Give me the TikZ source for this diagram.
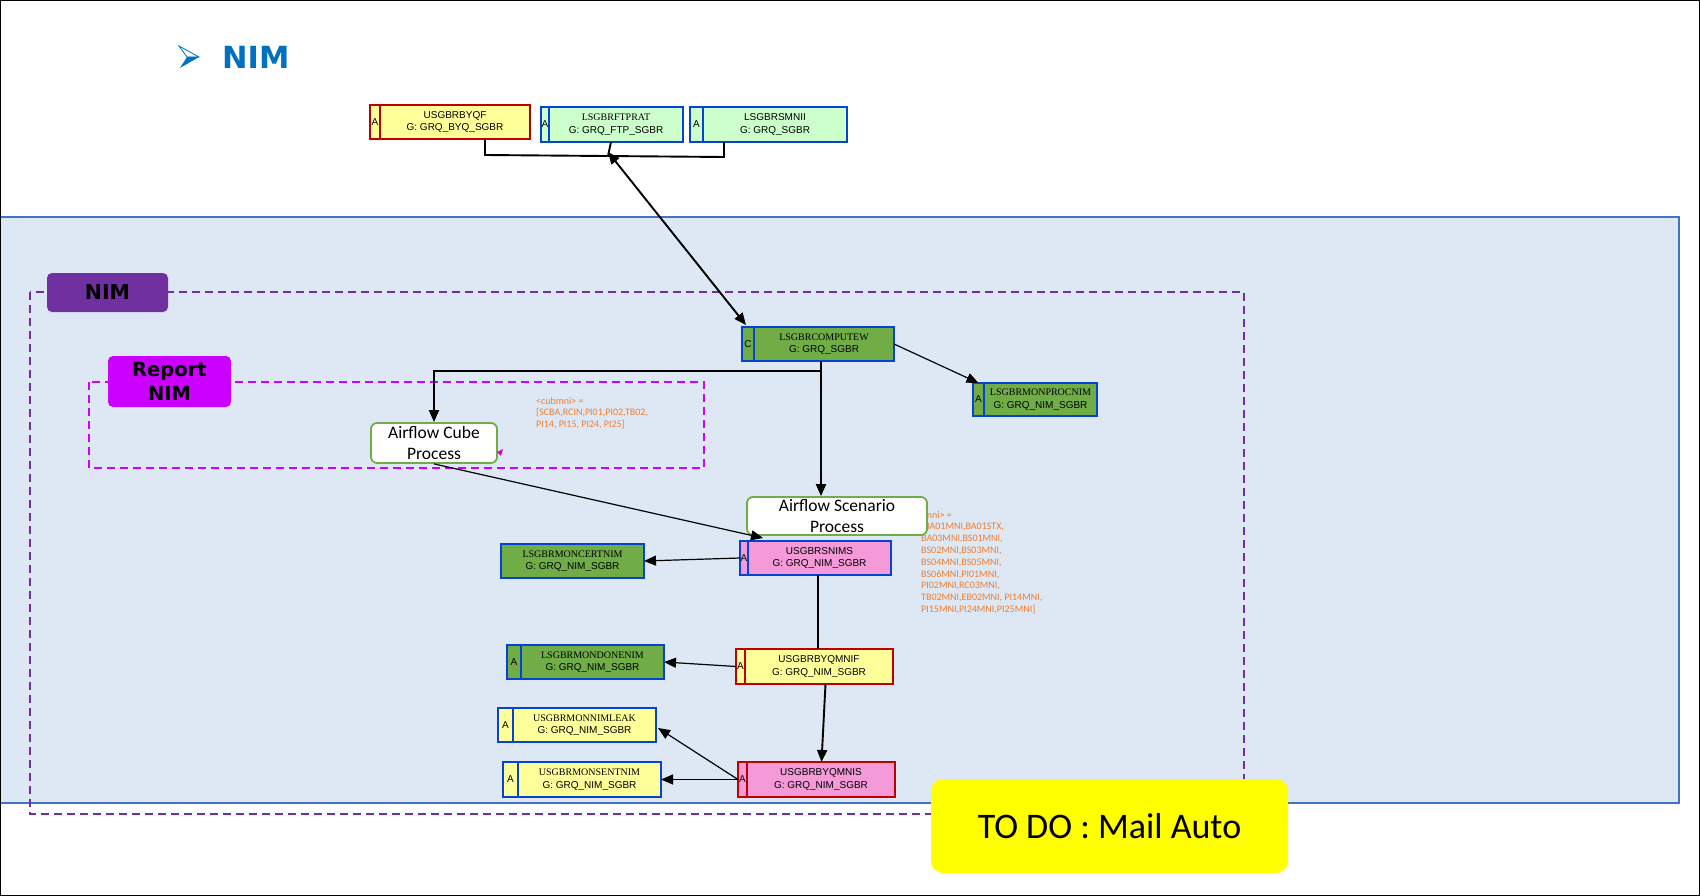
\documentclass[tikz,border=0pt]{standalone}
\usepackage{fontspec}
\setmainfont{Liberation Sans}
\newfontfamily\tms{Liberation Serif}
\newfontfamily\cali{Carlito}
\newfontfamily\heavy{DejaVu Sans}
\usetikzlibrary{calc,arrows.meta}
\definecolor{jyellow}{HTML}{FFFF99}
\definecolor{jlgreen}{HTML}{CCFFCC}
\definecolor{jgreen}{HTML}{70AD47}
\definecolor{jpink}{HTML}{F49AD9}
\definecolor{jred}{HTML}{C00000}
\definecolor{jblue}{HTML}{0544D2}
\definecolor{bgblue}{HTML}{DEE8F4}
\definecolor{bgborder}{HTML}{4472C4}
\definecolor{jpurple}{HTML}{7030A0}
\definecolor{jmagenta}{HTML}{CC00FF}
\definecolor{jorange}{HTML}{ED7D31}
\definecolor{titleblue}{HTML}{0070C0}
\definecolor{todoyellow}{HTML}{FFFF00}
\tikzset{
  jbox/.style={draw, line width=1.6pt, inner sep=0pt, outer sep=0pt},
  jcell/.style={draw, line width=1.6pt, inner sep=0pt, outer sep=0pt, font=\fontsize{10}{12}\selectfont},
  jtext/.style={inner sep=0pt, align=center, font=\fontsize{10}{12.5}\selectfont},
  yelred/.style={fill=jyellow, draw=jred},
  yelblue/.style={fill=jyellow, draw=jblue},
  lgblue/.style={fill=jlgreen, draw=jblue},
  grblue/.style={fill=jgreen, draw=jblue},
  pkblue/.style={fill=jpink, draw=jblue},
  pkred/.style={fill=jpink, draw=jred},
  flow/.style={draw=jgreen, line width=1.8pt, fill=white, rounded corners=6pt, inner sep=0pt, align=center, font=\cali\fontsize{17.5}{20.5}\selectfont},
  lbl/.style={rounded corners=5pt, inner sep=0pt, align=center, font=\heavy\bfseries\fontsize{19.5}{23.5}\selectfont},
  conn/.style={line width=1.9pt},
  tconn/.style={line width=1.2pt},
  >={Triangle[length=12pt,width=10pt]},
  note/.style={inner sep=0pt, align=left, text=jorange, font=\cali\fontsize{10}{11.8}\selectfont},
}
\newcommand{\jobnode}[9]{%
  \pgfmathsetmacro\jbw{#4-#2}\pgfmathsetmacro\jbh{#5-#3}\pgfmathsetmacro\jbc{#6-#2}%
  \node[jbox,#8,minimum width=\jbw pt,minimum height=\jbh pt,anchor=north west] (#1) at (#2,#3) {};%
  \node[jcell,#8,minimum width=\jbc pt,minimum height=\jbh pt,anchor=north west] (#1c) at (#2,#3) {#7};%
  \node[jtext] (#1t) at ($(#1c.east)!0.5!(#1.east)$) {#9};%
}
\begin{document}
\begin{tikzpicture}[x=1pt,y=-1pt]
\useasboundingbox (0,0) rectangle (1700,896);
\fill[white] (0,0) rectangle (1700,896);
% background panel
\draw[fill=bgblue, draw=bgborder, line width=1.6pt] (0,217) rectangle (1679,803);
% title
\draw[titleblue, line width=0.8pt, fill=white] (179,46) -- (199,57) -- (187,57) -- cycle;
\fill[titleblue] (187,57) -- (199,57) -- (180,68) -- cycle;
\node[anchor=west, inner sep=0pt, text=titleblue, font=\heavy\bfseries\fontsize{30.5}{36}\selectfont] (title) at (222,57) {NIM};
% dashed groups
\draw[jpurple, line width=1.8pt, dash pattern=on 8pt off 5pt] (30,292) rectangle (1244,814);
\draw[jmagenta, line width=1.8pt, dash pattern=on 8pt off 5pt] (89,382) rectangle (704,468);
\node[lbl, fill=jpurple, minimum width=121pt, minimum height=39pt, font=\heavy\bfseries\fontsize{20.5}{24}\selectfont] (nimlbl) at (107.5,292.5) {NIM};
\node[lbl, fill=jmagenta, minimum width=123pt, minimum height=51pt] (replbl) at (169.5,381.5) {Report\\NIM};
% notes
\node[note, anchor=north west] (cubnote) at (536,397) {<cubmni> =\\{[}SCBA,RCIN,PI01,PI02,TB02,\\PI14, PI15, PI24, PI25]};
\node[note, anchor=north west] (scnnote) at (921,511) {\hspace{3pt}mni> =\\{[}BA01MNI,BA01STX,\\BA03MNI,BS01MNI,\\BS02MNI,BS03MNI,\\BS04MNI,BS05MNI,\\BS06MNI,PI01MNI,\\PI02MNI,RC03MNI,\\TB02MNI,EB02MNI, PI14MNI,\\PI15MNI,PI24MNI,PI25MNI]};
% job nodes
\jobnode{byqf}{370}{105}{530}{139}{380}{A}{yelred}{USGBRBYQF\\G: GRQ\_BYQ\_SGBR}
\jobnode{ftp}{541}{107}{683}{142}{549}{A}{lgblue}{{\tms LSGBRFTPRAT}\\G: GRQ\_FTP\_SGBR}
\jobnode{smnii}{690}{107}{847}{142}{703}{A}{lgblue}{LSGBRSMNII\\G: GRQ\_SGBR}
\jobnode{compute}{742}{327}{894}{361}{754}{C}{grblue}{{\tms LSGBRCOMPUTEW}\\G: GRQ\_SGBR}
\jobnode{monproc}{973}{383}{1097}{416}{984}{A}{grblue}{{\tms LSGBRMONPROCNIM}\\G: GRQ\_NIM\_SGBR}
\jobnode{snims}{740}{541}{891}{575}{748}{A}{pkblue}{USGBRSNIMS\\G: GRQ\_NIM\_SGBR}
\node[jbox, grblue, minimum width=143pt, minimum height=34pt, anchor=north west] (cert) at (501,544) {};
\node[jtext] (certt) at (cert.center) {{\tms LSGBRMONCERTNIM}\\G: GRQ\_NIM\_SGBR};
\jobnode{mnif}{736}{649}{893}{684}{745}{A}{yelred}{USGBRBYQMNIF\\G: GRQ\_NIM\_SGBR}
\jobnode{done}{507}{645}{664}{679}{521}{A}{grblue}{{\tms LSGBRMONDONENIM}\\G: GRQ\_NIM\_SGBR}
\jobnode{leak}{498}{708}{656}{742}{513}{A}{yelblue}{{\tms USGBRMONNIMLEAK}\\G: GRQ\_NIM\_SGBR}
\jobnode{sent}{503}{762}{661}{797}{518}{A}{yelblue}{{\tms USGBRMONSENTNIM}\\G: GRQ\_NIM\_SGBR}
\jobnode{mnis}{738}{762}{895}{797}{747}{A}{pkred}{USGBRBYQMNIS\\G: GRQ\_NIM\_SGBR}
% process nodes
\node[flow, minimum width=126pt, minimum height=40pt] (cube) at (434,443) {Airflow Cube\\Process};
\node[flow, minimum width=180pt, minimum height=38pt] (scen) at (837,516) {Airflow Scenario\\Process};
\fill[jmagenta!70!red] (497,452) -- (503,449) -- (501,456) -- cycle;
% connectors
\coordinate (jl) at (485,155);
\coordinate (jm) at (608,156);
\coordinate (jr) at (724,157);
\draw[conn] (byqf.south -| jl) -- (jl) -- (jr) -- (smnii.south -| jr);
\draw[conn] (ftp.south -| 611,0) -- (jm);
\draw[conn,<->] ($(jm)+(0,-4)$) -- ($(compute.north west)+(4,-2)$);
\draw[tconn,->] (compute.east) -- (monprocc.north);
\coordinate (vx) at (821,0);
\coordinate (hb) at (821,371);
\draw[conn,->] (compute.south -| vx) -- (scen.north -| vx);
\draw[conn,->] (hb) -| (cube.north);
\draw[tconn,->] (cube.south) -- ($(snims.north west)+(23,-3)$);
\draw[tconn,->] (snims.west) -- (cert.east);
\coordinate (vx2) at (818,0);
\draw[conn] (snims.south -| vx2) -- (mnif.north -| vx2);
\draw[tconn,->] (mnif.west) -- (done.east);
\draw[conn,->] ($(mnif.south)+(11,0)$) -- ($(mnis.north)+(5,0)$);
\draw[tconn,->] (mnis.west) -- ($(leak.east)+(2,3)$);
\draw[tconn,->] (mnis.west) -- (sent.east);
% todo
\node[fill=todoyellow, rounded corners=12pt, minimum width=357pt, minimum height=94pt, inner sep=0pt, font=\cali\fontsize{36}{40}\selectfont] (todo) at (1109.5,826) {TO DO : Mail Auto};
% outer frame
\draw[black, line width=1.2pt] (0.6,0.6) rectangle (1699.4,895.4);
\end{tikzpicture}
\end{document}
